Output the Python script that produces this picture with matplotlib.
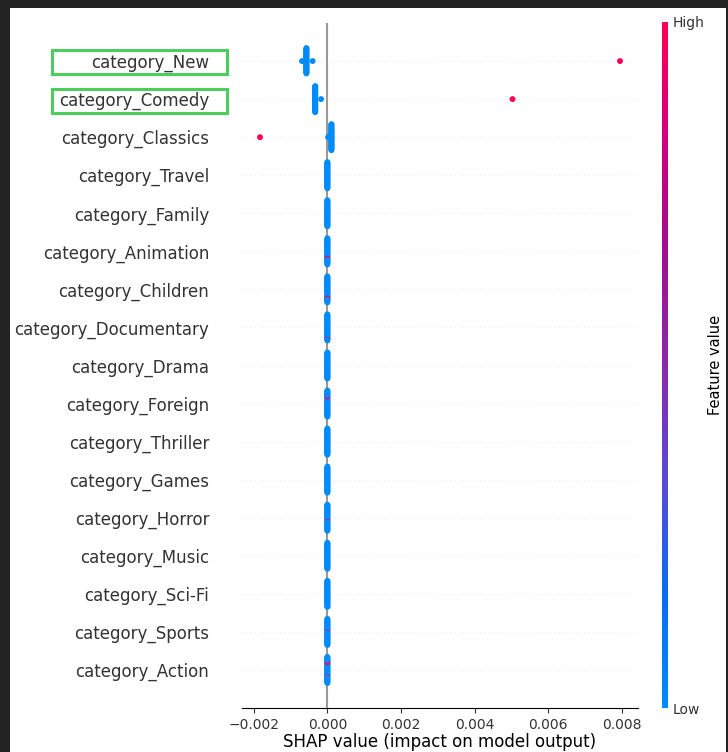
import numpy as np
import matplotlib
matplotlib.use("Agg")
import matplotlib.pyplot as plt
from matplotlib.colors import LinearSegmentedColormap
from matplotlib.patches import Rectangle

# feature names, top row first
features = ["category_New", "category_Comedy", "category_Classics", "category_Travel",
            "category_Family", "category_Animation", "category_Children",
            "category_Documentary", "category_Drama", "category_Foreign",
            "category_Thriller", "category_Games", "category_Horror", "category_Music",
            "category_Sci-Fi", "category_Sports", "category_Action"]

# runs of (shap value, number of samples, feature value 0=low / 1=high), in sample order
new_runs = [(-0.00057, 38, 0), (-0.00069, 1, 0), (-0.00040, 1, 0), (0.00795, 1, 1)]
comedy_runs = [(-0.00033, 39, 0), (-0.00017, 1, 0), (0.00503, 1, 1)]
classics_runs = [(0.00011, 39, 0), (0.00002, 1, 0), (-0.00183, 1, 1)]
travel_runs = [(0.0, 41, 0)]
family_runs = [(0.0, 41, 0)]
animation_runs = [(0.0, 22, 0), (0.0, 1, 1), (0.0, 1, 0), (0.0, 1, 1), (0.0, 16, 0)]
children_runs = [(0.0, 28, 0), (0.0, 1, 1), (0.0, 1, 0), (0.0, 1, 1), (0.0, 10, 0)]
documentary_runs = [(0.0, 38, 0), (0.0, 1, 1), (0.0, 2, 0)]
drama_runs = [(0.0, 41, 0)]
foreign_runs = [(0.0, 21, 0), (0.0, 1, 1), (0.0, 1, 0), (0.0, 1, 1), (0.0, 17, 0)]
thriller_runs = [(0.0, 41, 0)]
games_runs = [(0.0, 41, 0)]
horror_runs = [(0.0, 12, 0), (0.0, 1, 1), (0.0, 28, 0)]
music_runs = [(0.0, 1, 0), (0.0, 1, 1), (0.0, 39, 0)]
scifi_runs = [(0.0, 41, 0)]
sports_runs = [(0.0, 11, 0), (0.0, 1, 1), (0.0, 29, 0)]
action_runs = [(0.0, 22, 0), (0.0, 2, 1), (0.0, 1, 0), (0.0, 1, 1), (0.0, 1, 0),
               (0.0, 1, 1), (0.0, 13, 0)]

all_runs = [new_runs, comedy_runs, classics_runs, travel_runs, family_runs,
            animation_runs, children_runs, documentary_runs, drama_runs, foreign_runs,
            thriller_runs, games_runs, horror_runs, music_runs, scifi_runs,
            sports_runs, action_runs]

red_blue = LinearSegmentedColormap.from_list(
    "red_blue", ["#008bfb", "#0a6cf0", "#5a4ad4", "#8a2aa8", "#a0108f", "#d00080", "#ff0052"])


def swarm(vals, nbins=100, row_height=0.4):
    # stack samples that fall in the same value bin, alternating up / down
    quant = np.round(nbins * (vals - vals.min()) / (vals.max() - vals.min() + 1e-8))
    order = np.argsort(quant, kind="stable")
    ys = np.zeros(len(vals))
    layer, last = 0, None
    for i in order:
        if quant[i] != last:
            layer = 0
        ys[i] = np.ceil(layer / 2) * ((layer % 2) * 2 - 1)
        layer += 1
        last = quant[i]
    ys *= 0.9 * (row_height / max(np.max(np.abs(ys)) + 1, 1))
    return ys


fig = plt.figure(figsize=(7.28, 7.52), dpi=100, facecolor="#232323")
fig.patches.append(Rectangle((10 / 728, 0), 716 / 728, 744 / 752, transform=fig.transFigure,
                             facecolor="white", edgecolor="none", zorder=-5))

ax = fig.add_axes([242 / 728, 1 - 708 / 752, 396 / 728, 685 / 752])
ax.axvline(0, color="#999999", zorder=-1)

n = len(features)
for i, runs in enumerate(all_runs):
    pos = n - 1 - i
    vals = np.concatenate([np.full(c, v) for v, c, _ in runs])
    levels = np.concatenate([np.full(c, f) for _, c, f in runs])
    ax.axhline(pos, linestyle=":", color="#cccccc", lw=0.5, dashes=(1, 5), zorder=-1)
    ys = swarm(vals)
    ax.scatter(vals, pos + ys, c=levels, cmap=red_blue, vmin=0, vmax=1,
               s=18, linewidth=0, alpha=1, zorder=3)

ax.set_ylim(-1, n)
ax.set_yticks(range(n))
ax.set_yticklabels(features[::-1], fontsize=12)
ax.tick_params("y", length=20, width=0.5, color="none", labelcolor="#333333")
ax.tick_params("x", labelsize=10, color="#333333", labelcolor="#333333")
for side in ["top", "right", "left"]:
    ax.spines[side].set_visible(False)
ax.set_xlabel("SHAP value (impact on model output)", fontsize=12, labelpad=1)

cax = fig.add_axes([662 / 728, 1 - 708 / 752, 6 / 728, 686 / 752])
sm = plt.cm.ScalarMappable(cmap=red_blue, norm=plt.Normalize(0, 1))
cb = fig.colorbar(sm, cax=cax, ticks=[0, 1])
cb.set_ticklabels(["Low", "High"])
cb.set_label("Feature value", size=10.5, labelpad=2)
cb.ax.tick_params(labelsize=10, length=0, labelcolor="#333333")
cb.outline.set_visible(False)

# highlight boxes around the first two labels
for top in [50, 89]:
    fig.patches.append(Rectangle((52 / 728, 1 - (top + 24) / 752), 175 / 728, 24 / 752,
                                 transform=fig.transFigure, facecolor="none",
                                 edgecolor="#4ccd5f", linewidth=2.2, zorder=10))

fig.savefig("out.png", dpi=100, facecolor=fig.get_facecolor())
